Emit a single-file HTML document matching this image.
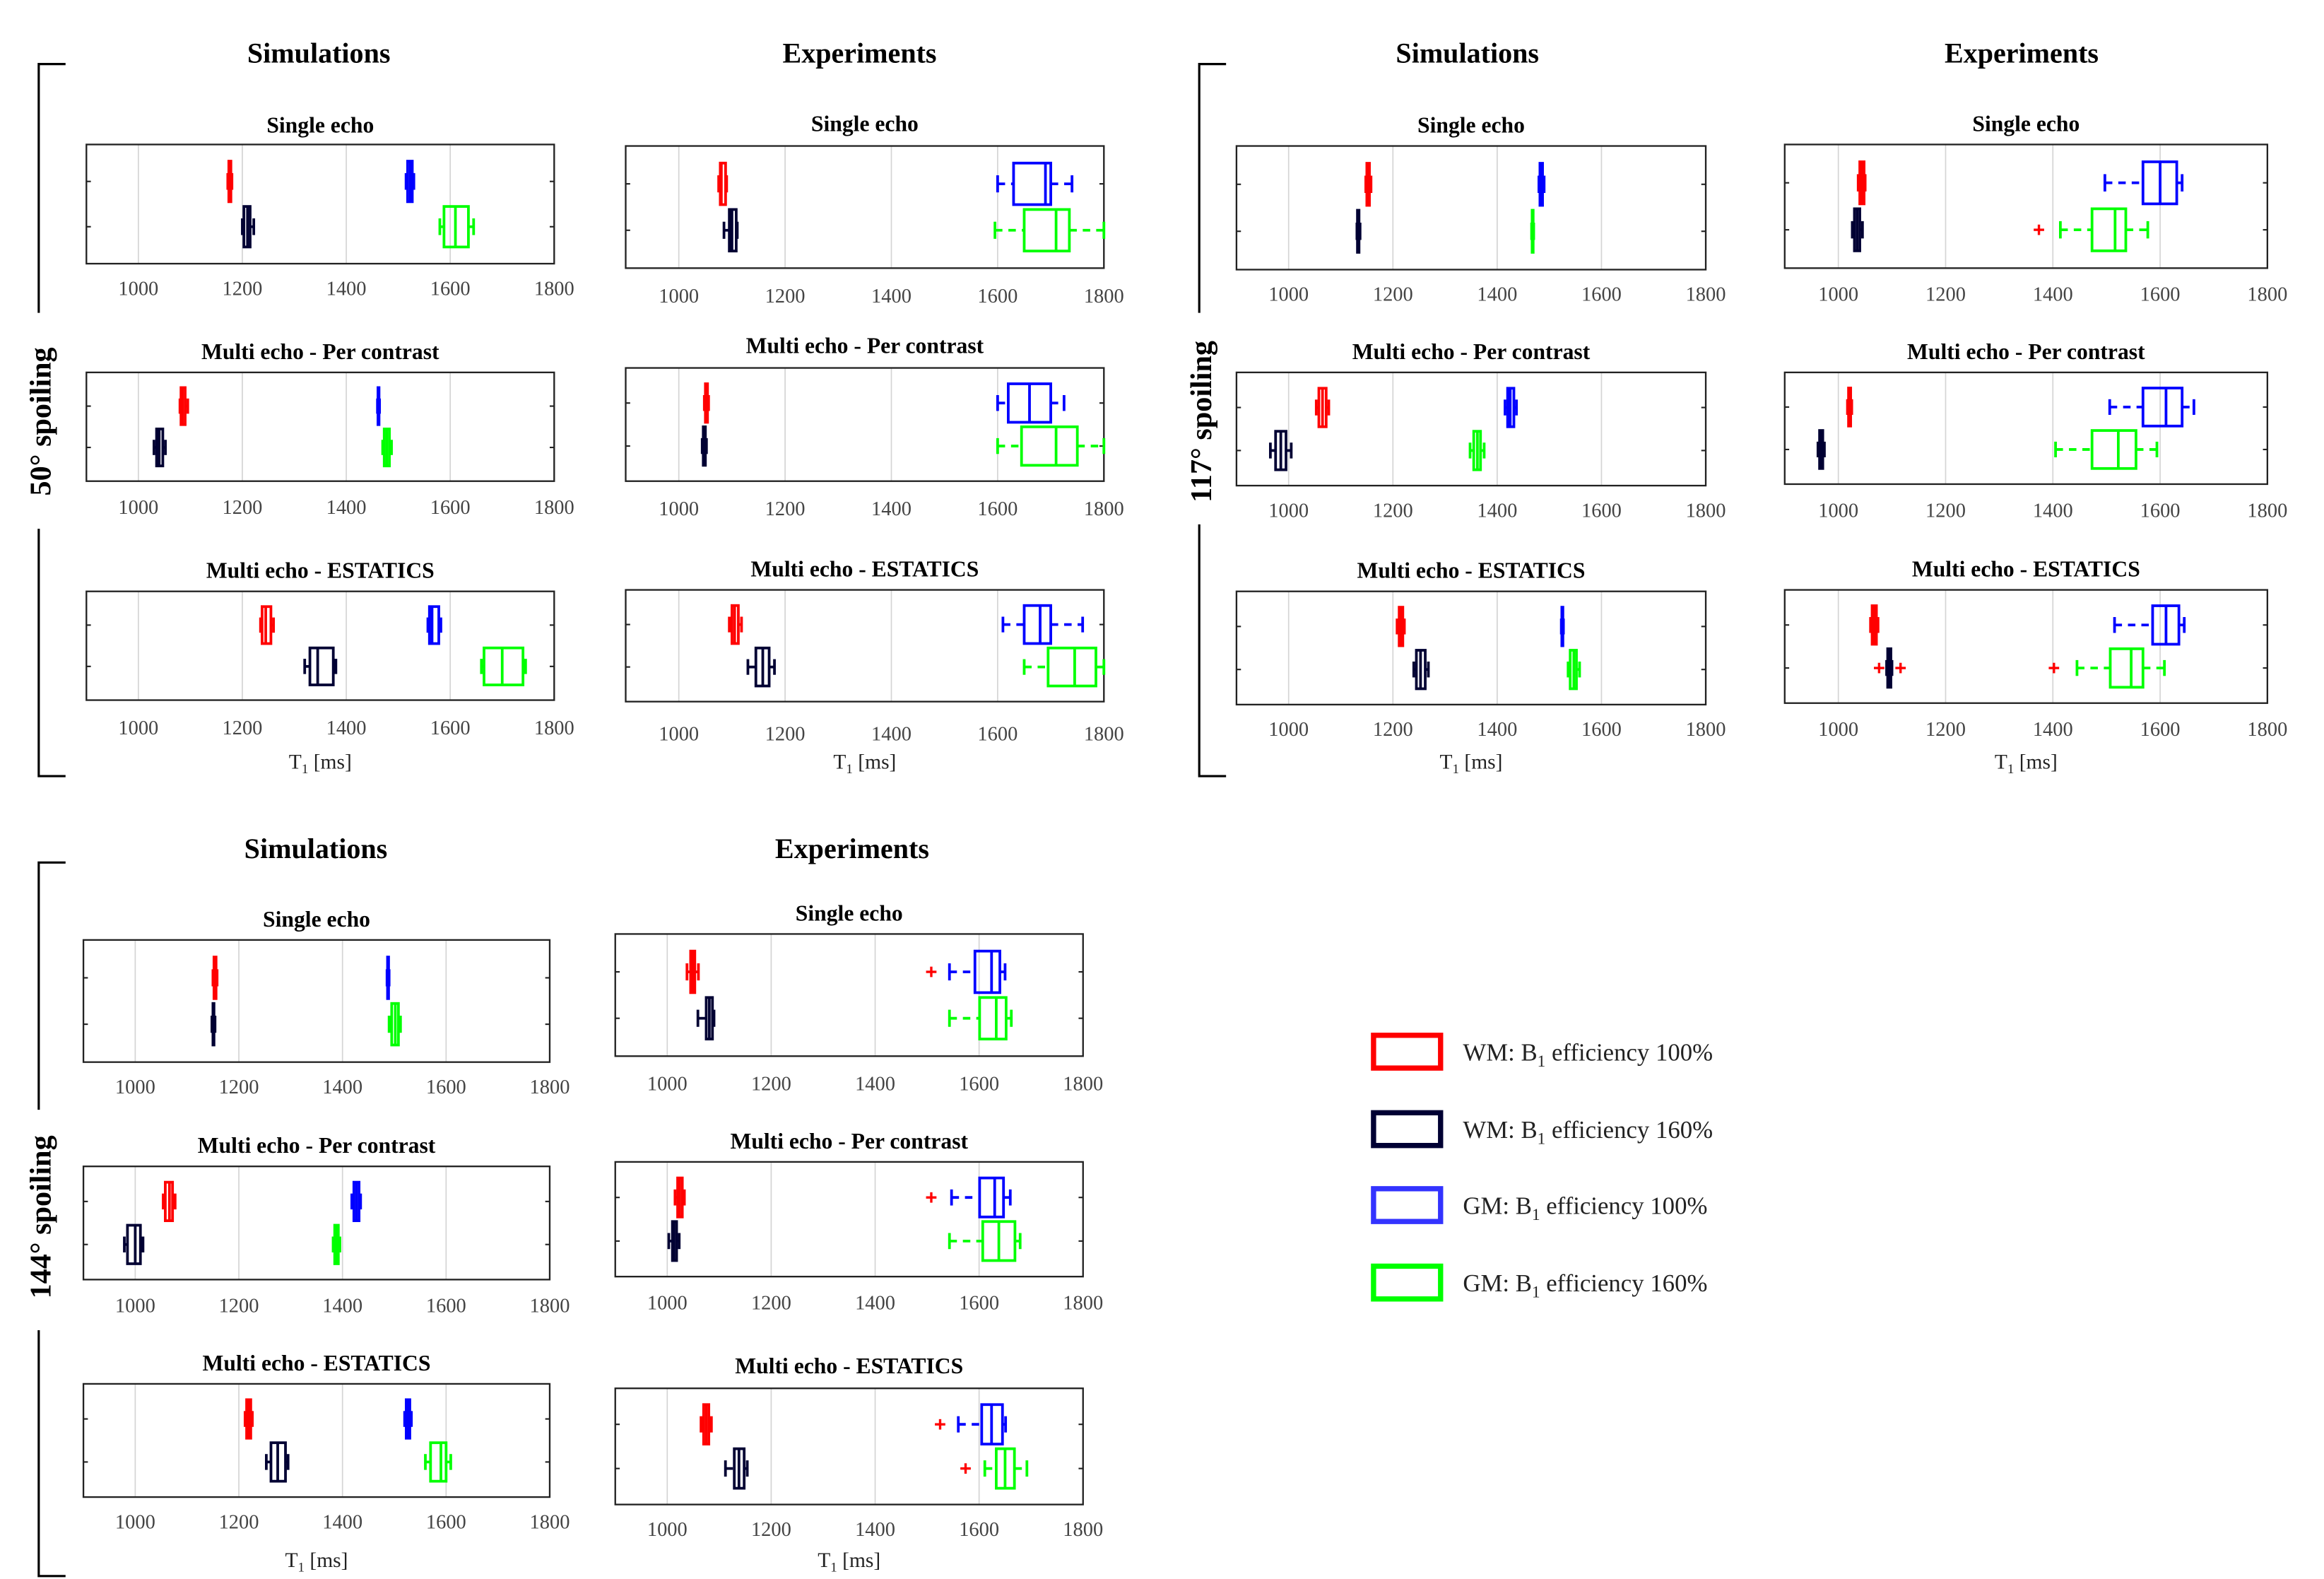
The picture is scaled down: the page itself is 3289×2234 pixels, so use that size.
<!DOCTYPE html>
<html><head><meta charset="utf-8"><style>
html,body{margin:0;padding:0;background:#fff;}
svg{display:block;}
text{font-family:"Liberation Serif",serif;}
</style></head><body>
<svg id="fig" xmlns="http://www.w3.org/2000/svg" width="3289" height="2234" viewBox="0 0 1560 1060" preserveAspectRatio="none">
<rect x="0" y="0" width="1560" height="1060" fill="#fff"/>
</svg>
<script>
// Data: each box = [whiskerLow, q1, median, q3, whiskerHigh, [outliers]]
// order per panel: WM B1 100%, WM B1 160%, GM B1 100%, GM B1 160%
const tickVals = [1000, 1200, 1400, 1600, 1800];
const seriesNames = ["WM: B1 efficiency 100%", "WM: B1 efficiency 160%", "GM: B1 efficiency 100%", "GM: B1 efficiency 160%"];
const seriesColors = ["#ff0000", "#000033", "#0000ff", "#00ff00"];

const s50Single = [[1172,1174,1176,1178,1180,[]],[1200,1203,1210,1215,1222,[]],[1515,1518,1523,1527,1530,[]],[1580,1588,1610,1635,1645,[]]];
const s50Per = [[1080,1082,1085,1090,1095,[]],[1030,1035,1040,1047,1052,[]],[1460,1461,1462,1463,1464,[]],[1470,1473,1478,1483,1487,[]]];
const s50Est = [[1235,1238,1245,1255,1260,[]],[1320,1330,1345,1375,1380,[]],[1557,1560,1565,1578,1582,[]],[1660,1665,1700,1740,1745,[]]];
const e50Single = [[1075,1078,1080,1088,1090,[]],[1085,1095,1100,1108,1110,[]],[1600,1630,1690,1700,1740,[]],[1595,1650,1710,1735,1800,[]]];
const e50Per = [[1048,1050,1052,1054,1056,[]],[1044,1046,1048,1050,1052,[]],[1600,1620,1660,1700,1725,[]],[1600,1645,1710,1750,1800,[]]];
const e50Est = [[1095,1100,1105,1112,1118,[]],[1130,1145,1158,1170,1180,[]],[1610,1650,1680,1700,1760,[]],[1650,1695,1745,1785,1800,[]]];

const s117Single = [[1148,1150,1153,1155,1158,[]],[1131,1132,1134,1135,1137,[]],[1480,1482,1485,1487,1490,[]],[1466,1467,1468,1469,1470,[]]];
const s117Per = [[1053,1058,1065,1072,1077,[]],[965,975,985,995,1005,[]],[1415,1420,1425,1432,1437,[]],[1348,1355,1362,1368,1375,[]]];
const s117Est = [[1208,1212,1215,1219,1222,[]],[1240,1245,1253,1262,1268,[]],[1523,1524,1525,1526,1527,[]],[1536,1540,1547,1552,1558,[]]];
const e117Single = [[1037,1040,1044,1048,1050,[]],[1026,1030,1035,1040,1045,[]],[1497,1568,1600,1631,1641,[]],[1414,1473,1516,1536,1577,[1374]]];
const e117Per = [[1017,1019,1021,1023,1025,[]],[962,965,968,971,974,[]],[1506,1568,1611,1641,1663,[]],[1405,1473,1522,1555,1594,[]]];
const e117Est = [[1060,1063,1067,1071,1074,[]],[1090,1092,1095,1098,1100,[1076,1116]],[1515,1586,1611,1635,1645,[]],[1445,1507,1546,1568,1608,[1402]]];

const s144Single = [[1150,1152,1154,1156,1158,[]],[1148,1150,1151,1152,1154,[]],[1486,1487,1488,1489,1490,[]],[1490,1495,1502,1508,1512,[]]];
const s144Per = [[1054,1058,1066,1072,1077,[]],[979,985,1000,1010,1015,[]],[1418,1422,1427,1432,1435,[]],[1382,1385,1389,1392,1395,[]]];
const s144Est = [[1212,1215,1219,1223,1226,[]],[1253,1262,1275,1290,1295,[]],[1520,1523,1526,1530,1533,[]],[1560,1570,1590,1600,1609,[]]];
const e144Single = [[1038,1045,1049,1053,1060,[]],[1059,1075,1081,1087,1090,[]],[1543,1592,1624,1640,1650,[1508]],[1543,1601,1633,1652,1662,[]]];
const e144Per = [[1015,1020,1024,1029,1033,[]],[1003,1010,1013,1018,1023,[]],[1547,1601,1630,1647,1660,[1508]],[1543,1607,1638,1669,1679,[]]];
const e144Est = [[1065,1070,1075,1080,1085,[]],[1112,1129,1138,1148,1154,[]],[1560,1605,1624,1645,1651,[1525]],[1611,1633,1650,1668,1692,[1574]]];

const NS = "http://www.w3.org/2000/svg";
const svg = document.getElementById('fig');
function mk(tag, attrs, parent) {
  const e = document.createElementNS(NS, tag);
  for (const k in attrs) e.setAttribute(k, attrs[k]);
  (parent || svg).appendChild(e);
  return e;
}
function txt(x, y, s, size, weight, anchor, parent) {
  const t = mk('text', {x: x, y: y, 'font-size': size, 'font-weight': weight || 'normal', 'text-anchor': anchor || 'middle', fill: '#000'}, parent);
  t.textContent = s;
  return t;
}
function xlabel(x, y, parent) {
  const t = mk('text', {x: x, y: y, 'font-size': 14, 'text-anchor': 'middle', fill: '#222'}, parent);
  
  
  t.appendChild(document.createTextNode('T'));
  const sub = document.createElementNS(NS, 'tspan');
  sub.setAttribute('font-size', 9); sub.setAttribute('dy', 3);
  sub.textContent = '1';
  t.appendChild(sub);
  const rest = document.createElementNS(NS, 'tspan');
  rest.setAttribute('dy', -3);
  rest.textContent = ' [ms]';
  t.appendChild(rest);
}

function panel(name, x0, y0, x1, y1, boxes, title, titleY, labY, xl) {
  const g = mk('g', {});
  
  
  const W = x1 - x0, H = y1 - y0;
  const xs = v => x0 + (v - 900) / 900 * W;
  const rowY = [y0 + 0.31 * H, y0 + 0.69 * H];
  const hh = 0.17 * H;
  const tt = txt((x0 + x1) / 2, titleY, title, 15, 'bold', 'middle', g);
  
  
  tickVals.forEach(v => {
    if (v < 1800) {
      const gl = mk('line', {x1: xs(v), x2: xs(v), y1: y0, y2: y1, stroke: '#d4d4d4', 'stroke-width': 0.8}, g);
      
      
    }
    const tl = txt(xs(v), labY, String(v), 13.5, 'normal', 'middle', g);
    tl.setAttribute('fill', '#444');
    
    
  });
  const frame = mk('rect', {x: x0, y: y0, width: W, height: H, fill: 'none', stroke: '#222', 'stroke-width': 1.1}, g);
  
  
  rowY.forEach(y => {
    mk('line', {x1: x0, x2: x0 + 3, y1: y, y2: y, stroke: '#222', 'stroke-width': 1}, g);
    mk('line', {x1: x1 - 3, x2: x1, y1: y, y2: y, stroke: '#222', 'stroke-width': 1}, g);
  });
  boxes.forEach((b, i) => {
    const col = seriesColors[i];
    const y = rowY[i % 2 === 0 ? 0 : 1];
    const bg = mk('g', {stroke: col, 'stroke-width': 1.8, fill: 'none'}, g);
    
    
    const lo = b[0], q1 = b[1], md = b[2], q3 = b[3], hi = b[4];
    mk('line', {x1: xs(lo), x2: xs(q1), y1: y, y2: y, 'stroke-dasharray': '5,4'}, bg);
    mk('line', {x1: xs(q3), x2: xs(hi), y1: y, y2: y, 'stroke-dasharray': '5,4'}, bg);
    mk('line', {x1: xs(lo), x2: xs(lo), y1: y - 0.07 * H, y2: y + 0.07 * H}, bg);
    mk('line', {x1: xs(hi), x2: xs(hi), y1: y - 0.07 * H, y2: y + 0.07 * H}, bg);
    mk('rect', {x: xs(q1), y: y - hh, width: Math.max(xs(q3) - xs(q1), 0.5), height: 2 * hh}, bg);
    mk('line', {x1: xs(md), x2: xs(md), y1: y - hh, y2: y + hh}, bg);
    b[5].forEach(o => {
      const og = mk('g', {stroke: '#ff0000', 'stroke-width': 1.6}, g);
      
      
      mk('line', {x1: xs(o) - 3.5, x2: xs(o) + 3.5, y1: y, y2: y}, og);
      mk('line', {x1: xs(o), x2: xs(o), y1: y - 3.5, y2: y + 3.5}, og);
    });
  });
  if (xl) xlabel((x0 + x1) / 2, xl, g);
}

function heading(x, y, s) {
  const t = txt(x, y, s, 19, 'bold');
  
  
}
function bracket(x, yTop, yGap1, yGap2, yBot, label, labY) {
  const p = mk('path', {d: `M${x + 18},${yTop} H${x} V${yGap1} M${x},${yGap2} V${yBot} H${x + 18}`, fill: 'none', stroke: '#000', 'stroke-width': 1.5});
  
  
  const t = txt(0, 0, label, 20, 'bold');
  t.setAttribute('transform', `translate(${x + 8},${labY}) rotate(-90)`);
  
  
}

// Group 50°
heading(214, 42, 'Simulations'); heading(577, 42, 'Experiments');
bracket(26, 43, 210, 355, 521, '50° spoiling', 283);
panel('sim-50-single', 58, 97, 372, 177, s50Single, 'Single echo', 89, 198);
panel('sim-50-per-contrast', 58, 250, 372, 323, s50Per, 'Multi echo - Per contrast', 241, 345);
panel('sim-50-estatics', 58, 397, 372, 470, s50Est, 'Multi echo - ESTATICS', 388, 493, 516);
panel('exp-50-single', 420, 98, 741, 180, e50Single, 'Single echo', 88, 203);
panel('exp-50-per-contrast', 420, 247, 741, 323, e50Per, 'Multi echo - Per contrast', 237, 346);
panel('exp-50-estatics', 420, 396, 741, 471, e50Est, 'Multi echo - ESTATICS', 387, 497, 516);

// Group 117°
heading(985, 42, 'Simulations'); heading(1357, 42, 'Experiments');
bracket(805, 43, 210, 352, 521, '117° spoiling', 283);
panel('sim-117-single', 830, 98, 1145, 181, s117Single, 'Single echo', 89, 202);
panel('sim-117-per-contrast', 830, 250, 1145, 326, s117Per, 'Multi echo - Per contrast', 241, 347);
panel('sim-117-estatics', 830, 397, 1145, 473, s117Est, 'Multi echo - ESTATICS', 388, 494, 516);
panel('exp-117-single', 1198, 97, 1522, 180, e117Single, 'Single echo', 88, 202);
panel('exp-117-per-contrast', 1198, 250, 1522, 325, e117Per, 'Multi echo - Per contrast', 241, 347);
panel('exp-117-estatics', 1198, 396, 1522, 472, e117Est, 'Multi echo - ESTATICS', 387, 494, 516);

// Group 144°
heading(212, 576, 'Simulations'); heading(572, 576, 'Experiments');
bracket(26, 579, 745, 893, 1058, '144° spoiling', 817);
panel('sim-144-single', 56, 631, 369, 713, s144Single, 'Single echo', 622, 734);
panel('sim-144-per-contrast', 56, 783, 369, 859, s144Per, 'Multi echo - Per contrast', 774, 881);
panel('sim-144-estatics', 56, 929, 369, 1005, s144Est, 'Multi echo - ESTATICS', 920, 1026, 1052);
panel('exp-144-single', 413, 627, 727, 709, e144Single, 'Single echo', 618, 732);
panel('exp-144-per-contrast', 413, 780, 727, 857, e144Per, 'Multi echo - Per contrast', 771, 879);
panel('exp-144-estatics', 413, 932, 727, 1010, e144Est, 'Multi echo - ESTATICS', 922, 1031, 1052);

// Legend
const legY = [706, 758, 809, 861];
seriesNames.forEach((n, i) => {
  const lg = mk('g', {});
  
  
  mk('rect', {x: 922, y: legY[i] - 11, width: 45, height: 22, fill: 'none', stroke: seriesColors[i] === '#0000ff' ? '#3333ff' : seriesColors[i], 'stroke-width': 3.5}, lg);
  const t = mk('text', {x: 982, y: legY[i] + 6, 'font-size': 16.5, fill: '#222'}, lg);
  const parts = n.split('B1');
  t.appendChild(document.createTextNode(parts[0] + 'B'));
  const sub = document.createElementNS(NS, 'tspan');
  sub.setAttribute('font-size', 11); sub.setAttribute('dy', 4); sub.textContent = '1';
  t.appendChild(sub);
  const rest = document.createElementNS(NS, 'tspan');
  rest.setAttribute('dy', -4); rest.textContent = parts[1];
  t.appendChild(rest);
});
</script>
</body></html>
